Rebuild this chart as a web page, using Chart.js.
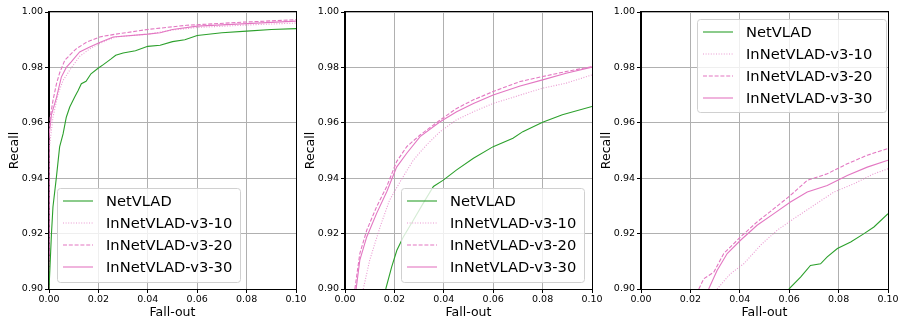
<!DOCTYPE html>
<html>
<head>
<meta charset="utf-8">
<script src="https://cdn.jsdelivr.net/npm/chart.js@4/dist/chart.umd.min.js"></script>
<style>
  body { margin: 0; background: #fff; width: 900px; height: 320px; position: relative; overflow: hidden; }
  canvas { position: absolute; top: 0; }
</style>
</head>
<body>
<canvas id="c1" width="310" height="320" style="left:0px"></canvas>
<canvas id="c2" width="310" height="320" style="left:296px"></canvas>
<canvas id="c3" width="310" height="320" style="left:592px"></canvas>
<script>
// labels and ticks
const seriesNames = ['NetVLAD', 'InNetVLAD-v3-10', 'InNetVLAD-v3-20', 'InNetVLAD-v3-30'];
const xTicks = [0, 0.02, 0.04, 0.06, 0.08, 0.1];
const yTicks = [0.9, 0.92, 0.94, 0.96, 0.98, 1.0];

// panel 1
const p1NetX = [0, 0.0005, 0.001, 0.0016, 0.003, 0.0043, 0.0057, 0.007, 0.0084, 0.0104, 0.0118, 0.0131, 0.015, 0.017, 0.02, 0.022, 0.025, 0.027, 0.03, 0.035, 0.04, 0.045, 0.05, 0.055, 0.06, 0.07, 0.08, 0.09, 0.1];
const p1NetY = [0.9, 0.91, 0.92, 0.9296, 0.9404, 0.9513, 0.956, 0.962, 0.9657, 0.9693, 0.9717, 0.9741, 0.975, 0.9777, 0.9798, 0.981, 0.983, 0.9844, 0.9852, 0.986, 0.9876, 0.988, 0.9893, 0.990, 0.9915, 0.9925, 0.9931, 0.9937, 0.994];
const p1V10X = [0, 0, 0.0016, 0.0037, 0.0057, 0.0084, 0.0124, 0.0165, 0.0205, 0.027, 0.04, 0.05, 0.06, 0.08, 0.1];
const p1V10Y = [0.9, 0.95, 0.962, 0.9705, 0.9753, 0.979, 0.984, 0.9867, 0.9886, 0.991, 0.992, 0.9935, 0.9944, 0.9953, 0.996];
const p1V20X = [0, 0, 0.0005, 0.0016, 0.003, 0.0043, 0.0064, 0.0084, 0.011, 0.015, 0.0205, 0.027, 0.04, 0.0557, 0.08, 0.1];
const p1V20Y = [0.9, 0.955, 0.962, 0.968, 0.974, 0.978, 0.9826, 0.9844, 0.9867, 0.989, 0.991, 0.992, 0.9937, 0.9952, 0.9964, 0.9972];
const p1V30X = [0, 0, 0.001, 0.003, 0.005, 0.007, 0.009, 0.0124, 0.0165, 0.0205, 0.026, 0.04, 0.045, 0.05, 0.06, 0.08, 0.1];
const p1V30Y = [0.9, 0.955, 0.963, 0.969, 0.9765, 0.980, 0.982, 0.9856, 0.9874, 0.989, 0.991, 0.992, 0.9925, 0.9937, 0.9949, 0.9958, 0.9967];

// panel 2
const p2NetX = [0.0165, 0.0189, 0.021, 0.0236, 0.0277, 0.0317, 0.0358, 0.0398, 0.0452, 0.052, 0.06, 0.068, 0.072, 0.08, 0.088, 0.1];
const p2NetY = [0.9, 0.908, 0.914, 0.9188, 0.9249, 0.931, 0.937, 0.9393, 0.943, 0.9472, 0.9514, 0.9544, 0.9568, 0.9602, 0.9629, 0.9659];
const p2V10X = [0.0074, 0.010, 0.0142, 0.018, 0.0223, 0.0277, 0.033, 0.0385, 0.045, 0.052, 0.06, 0.0709, 0.08, 0.0895, 0.1];
const p2V10Y = [0.9, 0.9104, 0.9224, 0.932, 0.9387, 0.9466, 0.952, 0.9568, 0.961, 0.964, 0.967, 0.970, 0.9725, 0.9743, 0.9773];
const p2V20X = [0.004, 0.006, 0.0088, 0.0128, 0.0169, 0.0209, 0.025, 0.0304, 0.0385, 0.0452, 0.052, 0.06, 0.0709, 0.08, 0.0895, 0.1];
const p2V20Y = [0.9, 0.9128, 0.9212, 0.9297, 0.937, 0.946, 0.9514, 0.9556, 0.961, 0.9652, 0.9683, 0.9713, 0.9749, 0.9767, 0.9785, 0.9803];
const p2V30X = [0.0045, 0.006, 0.0088, 0.0128, 0.0169, 0.0209, 0.025, 0.0304, 0.0385, 0.0452, 0.052, 0.06, 0.0709, 0.08, 0.0895, 0.1];
const p2V30Y = [0.9, 0.9104, 0.9188, 0.9273, 0.9351, 0.944, 0.949, 0.955, 0.9604, 0.964, 0.967, 0.970, 0.9733, 0.9755, 0.9779, 0.9801];

// panel 3
const p3NetX = [0.0599, 0.0646, 0.0686, 0.0727, 0.0754, 0.0795, 0.0849, 0.0903, 0.0943, 0.1];
const p3NetY = [0.9, 0.9043, 0.9085, 0.9091, 0.9116, 0.9146, 0.917, 0.920, 0.9224, 0.9272];
const p3V10X = [0.0308, 0.0362, 0.0416, 0.0484, 0.0551, 0.0619, 0.07, 0.0781, 0.0862, 0.0943, 0.1];
const p3V10Y = [0.9, 0.9055, 0.9091, 0.9158, 0.9212, 0.9254, 0.9302, 0.935, 0.938, 0.9416, 0.9434];
const p3V20X = [0.0234, 0.0254, 0.0295, 0.0335, 0.0403, 0.047, 0.0538, 0.0605, 0.0673, 0.0754, 0.0835, 0.0916, 0.1];
const p3V20Y = [0.9, 0.9037, 0.9061, 0.9128, 0.9188, 0.9242, 0.929, 0.9338, 0.9392, 0.9416, 0.9452, 0.9483, 0.9507];
const p3V30X = [0.0274, 0.0308, 0.0349, 0.0403, 0.047, 0.0538, 0.0605, 0.0673, 0.0754, 0.0835, 0.0916, 0.1];
const p3V30Y = [0.9, 0.9067, 0.9128, 0.9176, 0.923, 0.9272, 0.9314, 0.935, 0.9374, 0.941, 0.944, 0.9465];

const FONT = 'DejaVu Sans';
const styles = [
    { color: '#2ca02c', dash: [] },
    { color: 'rgba(227,119,194,0.75)', dash: [1, 1.6] },
    { color: '#e377c2', dash: [4, 1.8] },
    { color: '#e377c2', dash: [] }
];

function toPoints(xs, ys) {
    return xs.map((x, i) => ({ x: x, y: ys[i] }));
}

// draws the legend box inside the plot, like matplotlib
const boxLegend = {
    id: 'boxLegend',
    afterDatasetsDraw(chart, args, opts) {
        const ctx = chart.ctx;
        const a = chart.chartArea;
        let bx = opts.corner === 'll' ? a.left + opts.offX : a.right - opts.offX - opts.w;
        let by = opts.corner === 'ur' ? a.top + opts.offY : a.bottom - opts.offY - opts.h;
        ctx.save();
        ctx.beginPath();
        ctx.roundRect(bx + 0.5, by + 0.5, opts.w, opts.h, 3);
        ctx.fillStyle = 'rgba(255,255,255,0.8)';
        ctx.fill();
        ctx.strokeStyle = '#d0d0d0';
        ctx.lineWidth = 1;
        ctx.stroke();
        chart.data.datasets.forEach((ds, i) => {
            const y = by + 13 + i * 22;
            ctx.beginPath();
            ctx.setLineDash(ds.borderDash || []);
            ctx.strokeStyle = ds.borderColor;
            ctx.lineWidth = ds.borderWidth;
            ctx.moveTo(bx + 6, y);
            ctx.lineTo(bx + 36, y);
            ctx.stroke();
            ctx.setLineDash([]);
            ctx.fillStyle = '#000';
            ctx.font = '14.7px "' + FONT + '"';
            ctx.textBaseline = 'middle';
            ctx.fillText(ds.label, bx + 49, y + 1);
        });
        ctx.restore();
    }
};

// black frame around the plot
const frame = {
    id: 'frame',
    afterDraw(chart) {
        const ctx = chart.ctx;
        const a = chart.chartArea;
        ctx.save();
        ctx.strokeStyle = '#000';
        ctx.lineWidth = 1;
        ctx.strokeRect(Math.round(a.left) - 0.5, Math.round(a.top) - 0.5, a.right - a.left + 1, a.bottom - a.top + 1);
        ctx.restore();
    }
};

function makeChart(id, curves, legendOpts) {
    const ctx = document.getElementById(id).getContext('2d');
    return new Chart(ctx, {
        type: 'scatter',
        data: {
            datasets: curves.map((c, i) => ({
                label: seriesNames[i],
                data: toPoints(c[0], c[1]),
                showLine: true,
                borderColor: styles[i].color,
                borderDash: styles[i].dash,
                borderWidth: 1.1,
                pointRadius: 0,
                tension: 0,
                fill: false
            }))
        },
        options: {
            responsive: false,
            animation: false,
            layout: { padding: { left: 7, right: 14, top: 12, bottom: 0 } },
            plugins: {
                legend: { display: false },
                tooltip: { enabled: false },
                boxLegend: legendOpts
            },
            scales: {
                x: {
                    type: 'linear',
                    min: 0,
                    max: 0.1,
                    afterBuildTicks: (s) => { s.ticks = xTicks.map(v => ({ value: v })); },
                    afterFit: (s) => { s.height = 31; },
                    grid: { color: '#b0b0b0', lineWidth: 1, tickColor: '#000', tickLength: 4 },
                    border: { color: '#000' },
                    ticks: {
                        color: '#000',
                        padding: 1,
                        maxRotation: 0,
                        font: { family: FONT, size: 9.5 },
                        callback: (v) => Number(v).toFixed(2)
                    },
                    title: {
                        display: true,
                        text: 'Fall-out',
                        color: '#000',
                        padding: 0,
                        font: { family: FONT, size: 12.5 }
                    }
                },
                y: {
                    type: 'linear',
                    min: 0.9,
                    max: 1.0,
                    afterBuildTicks: (s) => { s.ticks = yTicks.map(v => ({ value: v })); },
                    afterFit: (s) => { s.width = 42; },
                    grid: { color: '#b0b0b0', lineWidth: 1, tickColor: '#000', tickLength: 4 },
                    border: { color: '#000' },
                    ticks: {
                        color: '#000',
                        padding: 2,
                        font: { family: FONT, size: 9.5 },
                        callback: (v) => Number(v).toFixed(2)
                    },
                    title: {
                        display: true,
                        text: 'Recall',
                        color: '#000',
                        padding: 0,
                        font: { family: FONT, size: 12.5 }
                    }
                }
            }
        },
        plugins: [boxLegend, frame]
    });
}

makeChart('c1', [[p1NetX, p1NetY], [p1V10X, p1V10Y], [p1V20X, p1V20Y], [p1V30X, p1V30Y]],
    { corner: 'll', offX: 8, offY: 7, w: 183, h: 94 });
makeChart('c2', [[p2NetX, p2NetY], [p2V10X, p2V10Y], [p2V20X, p2V20Y], [p2V30X, p2V30Y]],
    { corner: 'lr', offX: 8, offY: 7, w: 183, h: 94 });
makeChart('c3', [[p3NetX, p3NetY], [p3V10X, p3V10Y], [p3V20X, p3V20Y], [p3V30X, p3V30Y]],
    { corner: 'ur', offX: 2, offY: 7, w: 189, h: 93 });
</script>
</body>
</html>
